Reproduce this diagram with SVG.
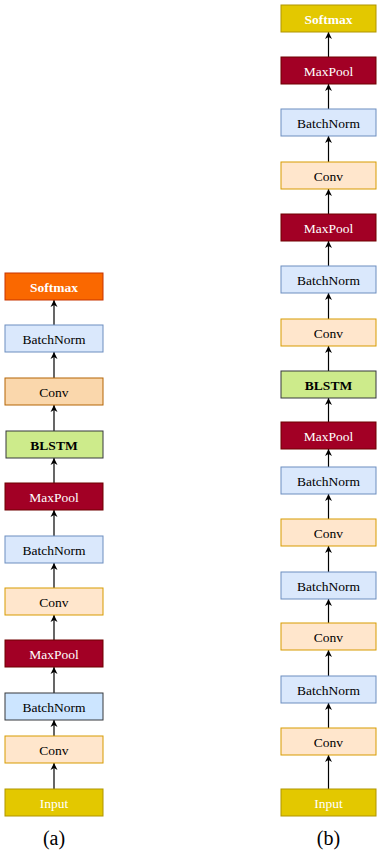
<svg xmlns="http://www.w3.org/2000/svg" width="377" height="852" viewBox="0 0 377 852">
<defs>
<marker id="ah" markerWidth="8" markerHeight="8" refX="7" refY="4" orient="auto" markerUnits="userSpaceOnUse">
<path d="M0,0.5 L7,4 L0,7.5 L2,4 z" fill="#000"/>
</marker>
<style>
rect{stroke-width:1}
text{font-family:"Liberation Serif","DejaVu Serif",serif;font-size:13.5px;text-anchor:middle;dominant-baseline:central}
.w{fill:#fff}
.k{fill:#000}
.b{font-weight:bold}
.bn{fill:#dae8fc;stroke:#6c8ebf}
.bn2{fill:#cce5ff;stroke:#36393d}
.cv{fill:#ffe6cc;stroke:#d79b00}
.cv2{fill:#fad7ac;stroke:#b46504}
.mp{fill:#a20025;stroke:#6f0000}
.bl{fill:#cdeb8b;stroke:#36393d}
.in{fill:#e3c800;stroke:#b09500}
.sm{fill:#fa6800;stroke:#c73500}
.cap{font-size:20px}
#edges line{stroke:#000;stroke-width:1.2;marker-end:url(#ah)}
</style>
</defs>
<g id="edges">
<line x1="54" y1="789" x2="54" y2="763"/>
<line x1="54" y1="736" x2="54" y2="720"/>
<line x1="54" y1="693" x2="54" y2="667"/>
<line x1="54" y1="640" x2="54" y2="615"/>
<line x1="54" y1="588" x2="54" y2="563"/>
<line x1="54" y1="536" x2="54" y2="510"/>
<line x1="54" y1="483" x2="54" y2="458"/>
<line x1="54" y1="431" x2="54" y2="405"/>
<line x1="54" y1="378" x2="54" y2="352"/>
<line x1="54" y1="325" x2="54" y2="300"/>
<line x1="328.5" y1="789" x2="328.5" y2="755"/>
<line x1="328.5" y1="728" x2="328.5" y2="703"/>
<line x1="328.5" y1="676" x2="328.5" y2="650"/>
<line x1="328.5" y1="623" x2="328.5" y2="599"/>
<line x1="328.5" y1="572" x2="328.5" y2="546"/>
<line x1="328.5" y1="519" x2="328.5" y2="494"/>
<line x1="328.5" y1="467" x2="328.5" y2="449"/>
<line x1="328.5" y1="422" x2="328.5" y2="398"/>
<line x1="328.5" y1="371" x2="328.5" y2="346"/>
<line x1="328.5" y1="319" x2="328.5" y2="293"/>
<line x1="328.5" y1="266" x2="328.5" y2="241"/>
<line x1="328.5" y1="214" x2="328.5" y2="189"/>
<line x1="328.5" y1="162" x2="328.5" y2="136"/>
<line x1="328.5" y1="109" x2="328.5" y2="84"/>
<line x1="328.5" y1="57" x2="328.5" y2="32"/>
</g>
<g id="a-softmax"><rect class="sm" x="5" y="273" width="98" height="27"/><text class="w b" x="54" y="287">Softmax</text></g>
<g id="a-bn3"><rect class="bn" x="5" y="325" width="98" height="27"/><text class="k" x="54" y="339">BatchNorm</text></g>
<g id="a-conv3"><rect class="cv2" x="5" y="378" width="98" height="27"/><text class="k" x="54" y="392">Conv</text></g>
<g id="a-blstm"><rect class="bl" x="6" y="431" width="97" height="27"/><text class="k b" x="54" y="445">BLSTM</text></g>
<g id="a-maxpool2"><rect class="mp" x="5" y="483" width="98" height="27"/><text class="w" x="54" y="497">MaxPool</text></g>
<g id="a-bn2"><rect class="bn" x="5" y="536" width="98" height="27"/><text class="k" x="54" y="550">BatchNorm</text></g>
<g id="a-conv2"><rect class="cv" x="5" y="588" width="98" height="27"/><text class="k" x="54" y="602">Conv</text></g>
<g id="a-maxpool1"><rect class="mp" x="5" y="640" width="98" height="27"/><text class="w" x="54" y="654">MaxPool</text></g>
<g id="a-bn1"><rect class="bn2" x="5" y="693" width="98" height="27"/><text class="k" x="54" y="707">BatchNorm</text></g>
<g id="a-conv1"><rect class="cv" x="5" y="736" width="98" height="27"/><text class="k" x="54" y="750">Conv</text></g>
<g id="a-input"><rect class="in" x="5" y="789" width="98" height="27"/><text class="w" x="54" y="803">Input</text></g>
<text class="k cap" x="54" y="838">(a)</text>
<g id="b-softmax"><rect class="in" x="281" y="5" width="95" height="27"/><text class="w b" x="328.5" y="19">Softmax</text></g>
<g id="b-maxpool3"><rect class="mp" x="281" y="57" width="95" height="27"/><text class="w" x="328.5" y="71">MaxPool</text></g>
<g id="b-bn6"><rect class="bn" x="281" y="109" width="95" height="27"/><text class="k" x="328.5" y="123">BatchNorm</text></g>
<g id="b-conv6"><rect class="cv" x="281" y="162" width="95" height="27"/><text class="k" x="328.5" y="176">Conv</text></g>
<g id="b-maxpool2"><rect class="mp" x="281" y="214" width="95" height="27"/><text class="w" x="328.5" y="228">MaxPool</text></g>
<g id="b-bn5"><rect class="bn" x="281" y="266" width="95" height="27"/><text class="k" x="328.5" y="280">BatchNorm</text></g>
<g id="b-conv5"><rect class="cv" x="281" y="319" width="95" height="27"/><text class="k" x="328.5" y="333">Conv</text></g>
<g id="b-blstm"><rect class="bl" x="281" y="371" width="95" height="27"/><text class="k b" x="328.5" y="385">BLSTM</text></g>
<g id="b-maxpool1"><rect class="mp" x="281" y="422" width="95" height="27"/><text class="w" x="328.5" y="436">MaxPool</text></g>
<g id="b-bn4"><rect class="bn" x="281" y="467" width="95" height="27"/><text class="k" x="328.5" y="481">BatchNorm</text></g>
<g id="b-conv4"><rect class="cv" x="281" y="519" width="95" height="27"/><text class="k" x="328.5" y="533">Conv</text></g>
<g id="b-bn3"><rect class="bn" x="281" y="572" width="95" height="27"/><text class="k" x="328.5" y="586">BatchNorm</text></g>
<g id="b-conv3"><rect class="cv" x="281" y="623" width="95" height="27"/><text class="k" x="328.5" y="637">Conv</text></g>
<g id="b-bn2"><rect class="bn" x="281" y="676" width="95" height="27"/><text class="k" x="328.5" y="690">BatchNorm</text></g>
<g id="b-conv2"><rect class="cv" x="281" y="728" width="95" height="27"/><text class="k" x="328.5" y="742">Conv</text></g>
<g id="b-input"><rect class="in" x="281" y="789" width="95" height="27"/><text class="w" x="328.5" y="803">Input</text></g>
<text class="k cap" x="328.5" y="838">(b)</text>
</svg>
